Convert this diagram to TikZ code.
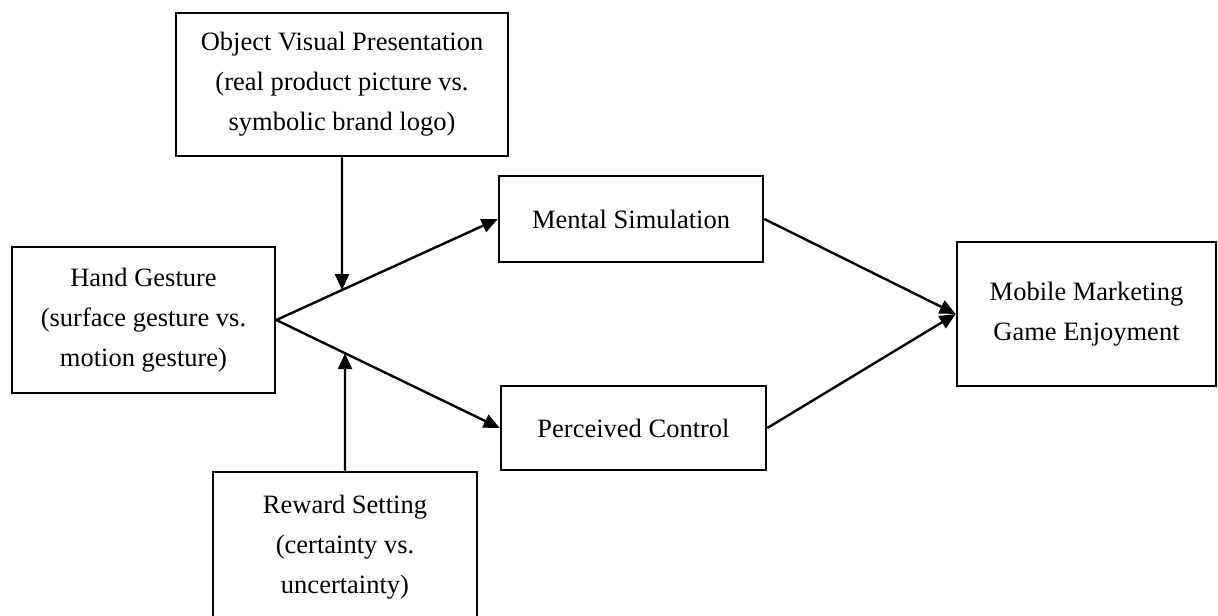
\documentclass[tikz,border=0pt]{standalone}
\usepackage{fontspec}
\setmainfont{Liberation Serif}
\usetikzlibrary{arrows.meta}
\tikzset{
  box/.style={draw=black, line width=1.3pt, rectangle, align=center, inner sep=0pt,
    font=\fontsize{13.25pt}{20pt}\selectfont},
  conn/.style={line width=1.2pt, -{Triangle[length=8pt,width=7pt]}}
}
\begin{document}
\begin{tikzpicture}[x=0.5pt, y=-0.5pt]
\clip (0,0) rectangle (1218,615);
\fill[white] (0,0) rectangle (1218,615);
\node[box, minimum width=166pt, minimum height=71.5pt] (ovp) at (342,84.5)
  {Object Visual Presentation\\(real product picture vs.\\symbolic brand logo)};
\node[box, minimum width=131.5pt, minimum height=73pt] (hg) at (143.5,320)
  {Hand Gesture\\(surface gesture vs.\\motion gesture)};
\node[box, minimum width=132pt, minimum height=43pt] (ms) at (631,219)
  {Mental Simulation};
\node[box, minimum width=132.5pt, minimum height=42pt] (pc) at (633.5,428)
  {Perceived Control};
\node[box, minimum width=129.5pt, minimum height=72pt] (mmge) at (1086.5,314)
  {Mobile Marketing\\Game Enjoyment};
\node[box, minimum width=132pt, minimum height=75.5pt] (rs) at (345,547.5)
  {Reward Setting\\(certainty vs.\\uncertainty)};
\draw[conn] (hg.east) -- (ms.west);
\draw[conn] (hg.east) -- (pc.west);
\draw[conn] (ms.east) -- (mmge.west);
\draw[conn] (pc.east) -- (mmge.west);
\coordinate (m1) at (intersection of hg.east--ms.west and ovp.south--ovp.north);
\coordinate (m2) at (intersection of hg.east--pc.west and rs.north--rs.south);
\draw[conn] (ovp.south) -- (m1);
\draw[conn] (rs.north) -- (m2);
\end{tikzpicture}
\end{document}
